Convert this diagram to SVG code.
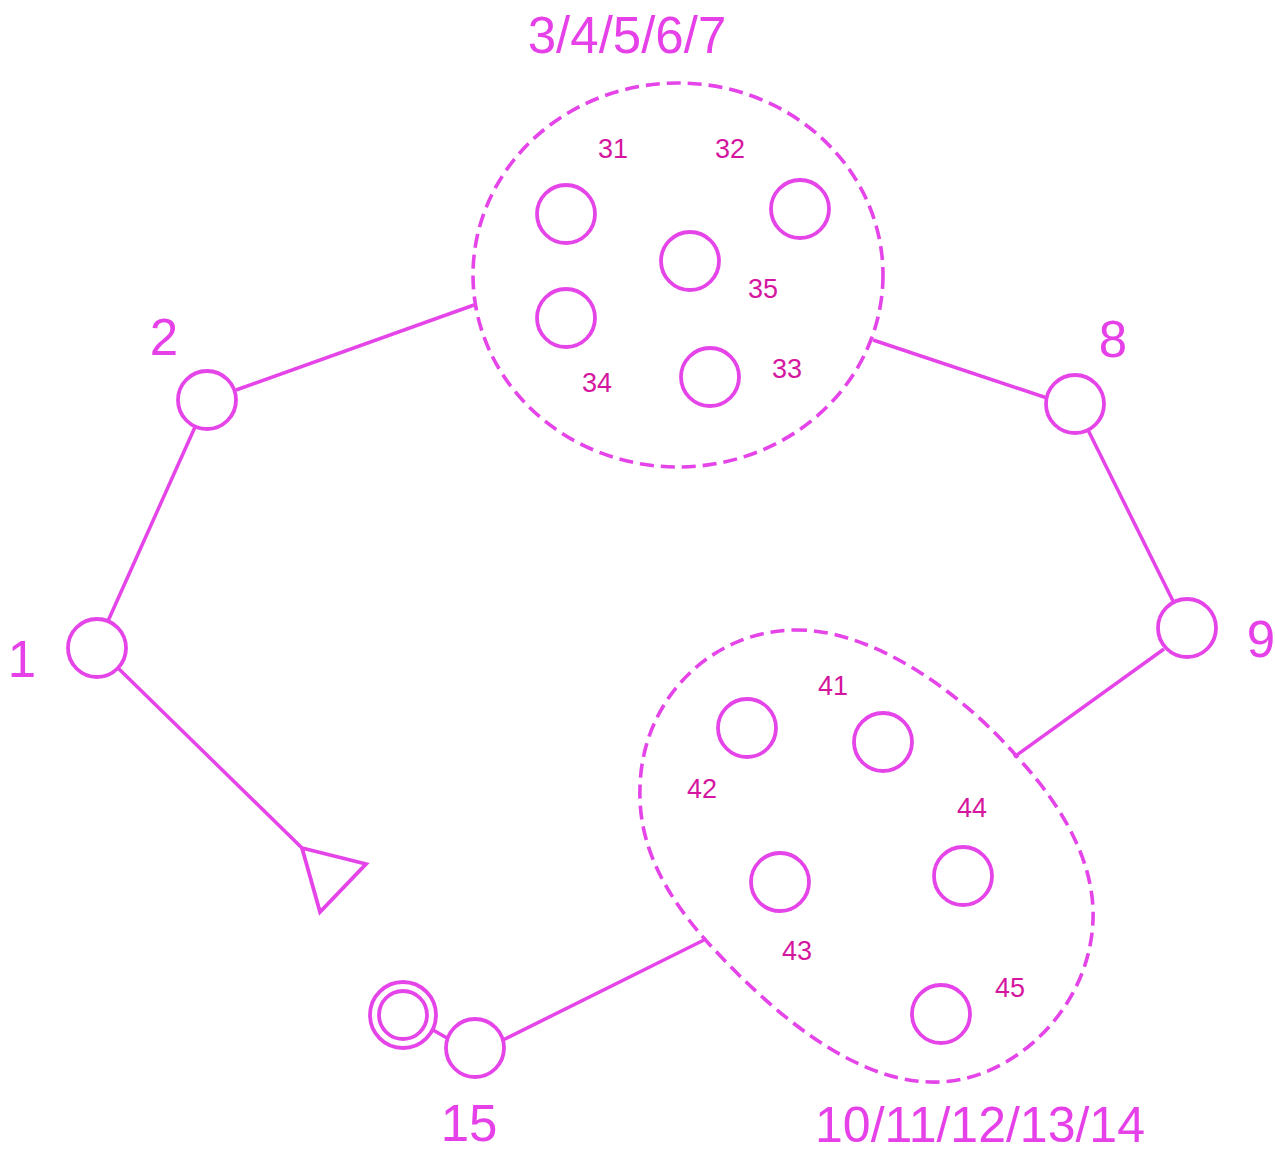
<svg xmlns="http://www.w3.org/2000/svg" width="1275" height="1153" viewBox="0 0 1275 1153">
<style>
.n{fill:none;stroke:#E444E8;stroke-width:3.8}
.g{fill:none;stroke:#E444E8;stroke-width:3.6;stroke-dasharray:14 7}
.c{fill:none;stroke:#E444E8;stroke-width:3.5}
.big{font-family:"Liberation Sans",Arial,sans-serif;font-size:51px;fill:#E640E8;text-anchor:middle}
.sm{font-family:"Liberation Sans",Arial,sans-serif;font-size:27px;fill:#D4179E;text-anchor:middle}
</style>
<rect width="1275" height="1153" fill="#fff"/>
<g id="connectors">
<line class="c" x1="108" y1="621" x2="195" y2="427"/>
<line class="c" x1="236" y1="390" x2="474" y2="305"/>
<line class="c" x1="873" y1="340" x2="1047" y2="398"/>
<line class="c" x1="1088" y1="430" x2="1173" y2="601"/>
<line class="c" x1="1164" y1="649" x2="1014" y2="757"/>
<line class="c" x1="704" y1="940" x2="503" y2="1040"/>
<line class="c" x1="433" y1="1030" x2="447" y2="1038"/>
<line class="c" x1="118" y1="668" x2="302" y2="848"/>
</g>
<g id="start">
<polygon class="n" points="302,848 366,864 320,912"/>
</g>
<g id="node1"><circle class="n" cx="97" cy="648" r="29"/><text class="big" x="22" y="677">1</text></g>
<g id="node2"><circle class="n" cx="207" cy="400" r="29"/><text class="big" x="164" y="355">2</text></g>
<g id="group1">
<ellipse class="g" cx="678" cy="275" rx="205" ry="192"/>
<text class="big" x="627" y="53">3/4/5/6/7</text>
<circle class="n" cx="566" cy="214" r="29"/>
<circle class="n" cx="800" cy="209" r="29"/>
<circle class="n" cx="690" cy="261" r="29"/>
<circle class="n" cx="566" cy="318" r="29"/>
<circle class="n" cx="710" cy="377" r="29"/>
<text class="sm" x="613" y="158">31</text>
<text class="sm" x="730" y="158">32</text>
<text class="sm" x="763" y="298">35</text>
<text class="sm" x="597" y="392">34</text>
<text class="sm" x="787" y="378">33</text>
</g>
<g id="node8"><circle class="n" cx="1075" cy="404" r="29"/><text class="big" x="1113" y="357">8</text></g>
<g id="node9"><circle class="n" cx="1187" cy="628" r="29"/><text class="big" x="1261" y="657">9</text></g>
<g id="group2">
<path class="g" d="M793,630 C870,628 960,690 1020,760 C1070,815 1095,870 1093,920 C1090,1010 1010,1085 930,1082 C850,1080 770,1010 710,945 C660,890 638,840 640,787 C642,700 710,632 793,630 Z"/>
<text class="big" x="980" y="1142" style="font-size:50px">10/11/12/13/14</text>
<circle class="n" cx="747" cy="728" r="29"/>
<circle class="n" cx="883" cy="742" r="29"/>
<circle class="n" cx="780" cy="882" r="29"/>
<circle class="n" cx="963" cy="876" r="29"/>
<circle class="n" cx="941" cy="1014" r="29"/>
<text class="sm" x="833" y="695">41</text>
<text class="sm" x="702" y="798">42</text>
<text class="sm" x="972" y="817">44</text>
<text class="sm" x="797" y="960">43</text>
<text class="sm" x="1010" y="997">45</text>
</g>
<g id="node15"><circle class="n" cx="475" cy="1048" r="29"/><text class="big" x="469" y="1141">15</text></g>
<g id="end"><circle class="n" cx="403" cy="1015" r="33"/><circle class="n" cx="403" cy="1015" r="24"/></g>
</svg>
